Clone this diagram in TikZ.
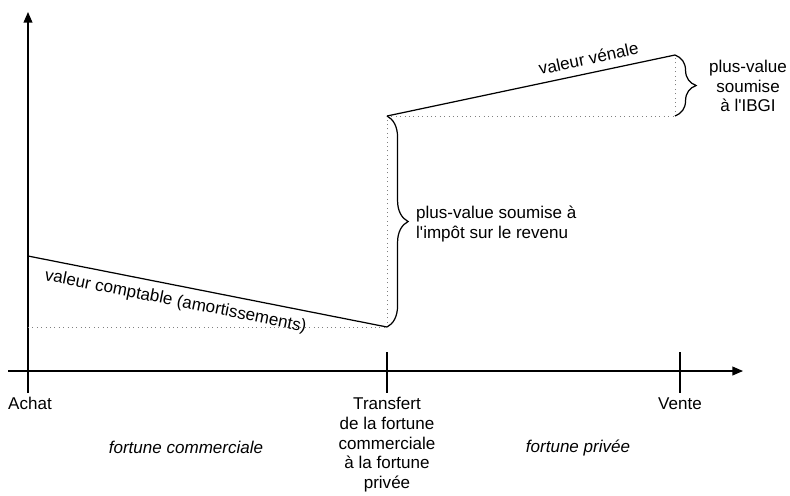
\documentclass[tikz,border=0pt]{standalone}
\usepackage{fontspec}
\setmainfont{Liberation Sans}
\usetikzlibrary{arrows.meta,decorations.pathreplacing}

\begin{document}
\begin{tikzpicture}[
    x=0.02cm, y=-0.02cm,
    font=\fontsize{9.7}{11.2}\selectfont,
    axis/.style={line width=0.7pt, -{Triangle[length=6pt,width=5pt]}},
    tick/.style={line width=0.6pt},
    curve/.style={line width=0.7pt},
    guide/.style={dotted, gray, line width=0.5pt},
    bracket/.style={line width=0.7pt, decorate,
        decoration={brace, amplitude=12pt}},
    label/.style={align=center, inner sep=0pt, anchor=north}
]
    \useasboundingbox (0,0) rectangle (790,495);
    % axes
    \coordinate (ybottom) at (28,393);
    \coordinate (ytop) at (28,12);
    \coordinate (xleft) at (8,371);
    \coordinate (xright) at (743,371);
    \draw[axis] (ybottom) -- (ytop);
    \draw[axis] (xleft) -- (xright);
    % ticks
    \coordinate (transfert) at (387,352);
    \coordinate (transfertb) at (387,393);
    \coordinate (vente) at (680,352);
    \coordinate (venteb) at (680,393);
    \draw[tick] (transfert) -- (transfertb);
    \draw[tick] (vente) -- (venteb);
    % values
    \coordinate (start) at (28,256);
    \coordinate (low) at (387,327);
    \coordinate (high) at (387,116);
    \coordinate (top) at (675,55);
    \coordinate (base) at (675,116);
    \draw[guide] (start |- low) -- (low);
    \draw[guide] (low) -- (high);
    \draw[guide] (high) -- (base);
    \draw[guide] (base) -- (top);
    \draw[curve] (start) -- (low)
        node[pos=0.42, sloped, below=1pt] (comptable)
        {valeur comptable (amortissements)};
    \draw[curve] (high) -- (top)
        node[pos=0.71, sloped, above=1pt] (venale) {valeur vénale};
    \draw[bracket] (high) -- (low);
    \draw[bracket] (top) -- (base);
    % texts
    \node[anchor=west, align=left] (impot) at (410,224)
        {plus-value soumise à\\l\textquotesingle impôt sur le revenu};
    \node[align=center] (ibgi) at (748,86)
        {plus-value\\soumise\\à l\textquotesingle IBGI};
    \node[label] (achat) at (30,397) {Achat};
    \node[label] (transfertl) at (387,397)
        {Transfert\\de la fortune\\commerciale\\à la fortune\\privée};
    \node[label] (ventel) at (680,397) {Vente};
    \node[font=\fontsize{9.7}{11.2}\selectfont\itshape] (commerciale)
        at (186,447) {fortune commerciale};
    \node[font=\fontsize{9.7}{11.2}\selectfont\itshape] (privee)
        at (578,448) {fortune privée};
\end{tikzpicture}
\end{document}
